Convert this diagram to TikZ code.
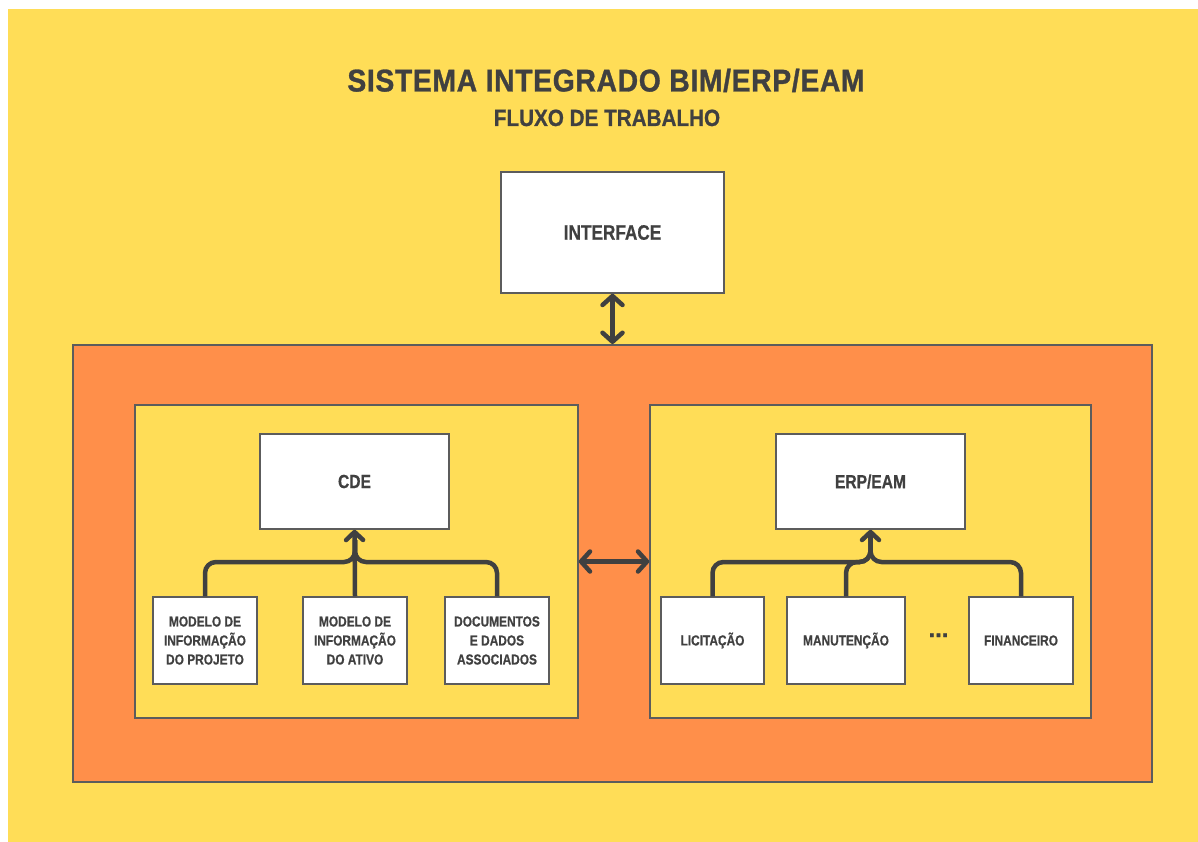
\documentclass[tikz,border=0pt]{standalone}
\usepackage{fontspec}
\setmainfont{Liberation Sans}
\newfontfamily\condfont[FakeStretch=0.82,FakeBold=0.6]{Liberation Sans}
\newfontfamily\titlefont[FakeStretch=0.9,LetterSpace=2,FakeBold=1]{Liberation Sans}
\newfontfamily\subfont[FakeStretch=0.88,FakeBold=0.8]{Liberation Sans}
\newfontfamily\dotfont[FakeBold=1]{Liberation Sans}
\usetikzlibrary{arrows.meta}
\definecolor{bgyellow}{RGB}{255,221,87}
\definecolor{orangefill}{RGB}{255,143,74}
\definecolor{ink}{RGB}{64,64,64}
\definecolor{edge}{RGB}{92,92,92}
\begin{document}
\begin{tikzpicture}[x=1pt,y=-1pt,
 box/.style={draw=edge,line width=1.5pt,fill=white,rectangle,inner sep=0pt,text=ink,align=center},
 panel/.style={draw=edge,line width=1.5pt,fill=bgyellow,rectangle,inner sep=0pt},
 outerbox/.style={draw=edge,line width=2pt,fill=orangefill,rectangle,inner sep=0pt},
 bigtxt/.style={font=\condfont\bfseries\fontsize{21}{25}\selectfont},
 midtxt/.style={font=\condfont\bfseries\fontsize{19}{23}\selectfont},
 smalltxt/.style={font=\condfont\bfseries\fontsize{14.5}{19}\selectfont},
 smallbox/.style={box,smalltxt,minimum height=87pt},
 link/.style={draw=ink,line width=4.5pt,rounded corners=11pt},
 twoway/.style={draw=ink,line width=4.5pt,{Straight Barb[length=9pt,width=20pt,round]}-{Straight Barb[length=9pt,width=20pt,round]}},
 uptip/.style={-{Straight Barb[length=8pt,width=17pt,round]}}
]
\useasboundingbox (0,0) rectangle (1198,842);
\fill[white] (0,0) rectangle (1198,842);
\fill[bgyellow] (8,9) rectangle (1198,842);

% titles
\node[text=ink,font=\titlefont\bfseries\fontsize{31.5}{35}\selectfont,anchor=base,inner sep=0pt] (title) at (606,91.5) {SISTEMA INTEGRADO BIM/ERP/EAM};
\node[text=ink,font=\subfont\bfseries\fontsize{23.5}{27}\selectfont,anchor=base,inner sep=0pt] (subtitle) at (607,126) {FLUXO DE TRABALHO};

% containers
\node[box,bigtxt,minimum width=223pt,minimum height=121pt] (interface) at (612.5,232.5) {INTERFACE};
\node[outerbox,minimum width=1079pt,minimum height=437pt] (outer) at (612.5,563.5) {};
\node[panel,minimum width=443pt,minimum height=313pt] (lp) at (356.5,561.5) {};
\node[panel,minimum width=441pt,minimum height=313pt] (rp) at (870.5,561.5) {};

% inner boxes
\node[box,midtxt,minimum width=189pt,minimum height=95pt] (cde) at (354.5,481.5) {CDE};
\node[box,midtxt,minimum width=189pt,minimum height=95pt] (erp) at (870.5,481.5) {ERP/EAM};

\node[smallbox,minimum width=104pt] (b1) at (205,640.5) {MODELO DE\\INFORMAÇÃO\\DO PROJETO};
\node[smallbox,minimum width=104pt] (b2) at (355,640.5) {MODELO DE\\INFORMAÇÃO\\DO ATIVO};
\node[smallbox,minimum width=104pt] (b3) at (497,640.5) {DOCUMENTOS\\E DADOS\\ASSOCIADOS};

\node[smallbox,minimum width=103pt] (r1) at (712.5,640.5) {LICITAÇÃO};
\node[smallbox,minimum width=118pt] (r2) at (846,640.5) {MANUTENÇÃO};
\node[smallbox,minimum width=104pt] (r3) at (1021,640.5) {FINANCEIRO};
\node[text=ink,font=\dotfont\bfseries\fontsize{24}{28}\selectfont,anchor=base,inner sep=0pt] (dots) at (938.5,637) {...};

% main connectors
\draw[twoway] (interface) -- (outer);
\draw[twoway] (lp) -- (rp);

% CDE tree
\coordinate (kl) at (355,562);
\coordinate (jl) at (355,540);
\draw[link] (b1.north) |- (kl) -- (jl);
\draw[link] (b3.north) |- (kl) -- (jl);
\draw[link,uptip] (b2.north) -- (cde.south);

% ERP tree
\coordinate (kr) at (870.5,562);
\coordinate (jr) at (870.5,540);
\draw[link] (r1.north) |- (kr) -- (jr);
\draw[link] (r2.north) |- (kr) -- (jr);
\draw[link] (r3.north) |- (kr) -- (jr);
\draw[link,uptip] (jr) -- (erp.south);
\end{tikzpicture}
\end{document}
